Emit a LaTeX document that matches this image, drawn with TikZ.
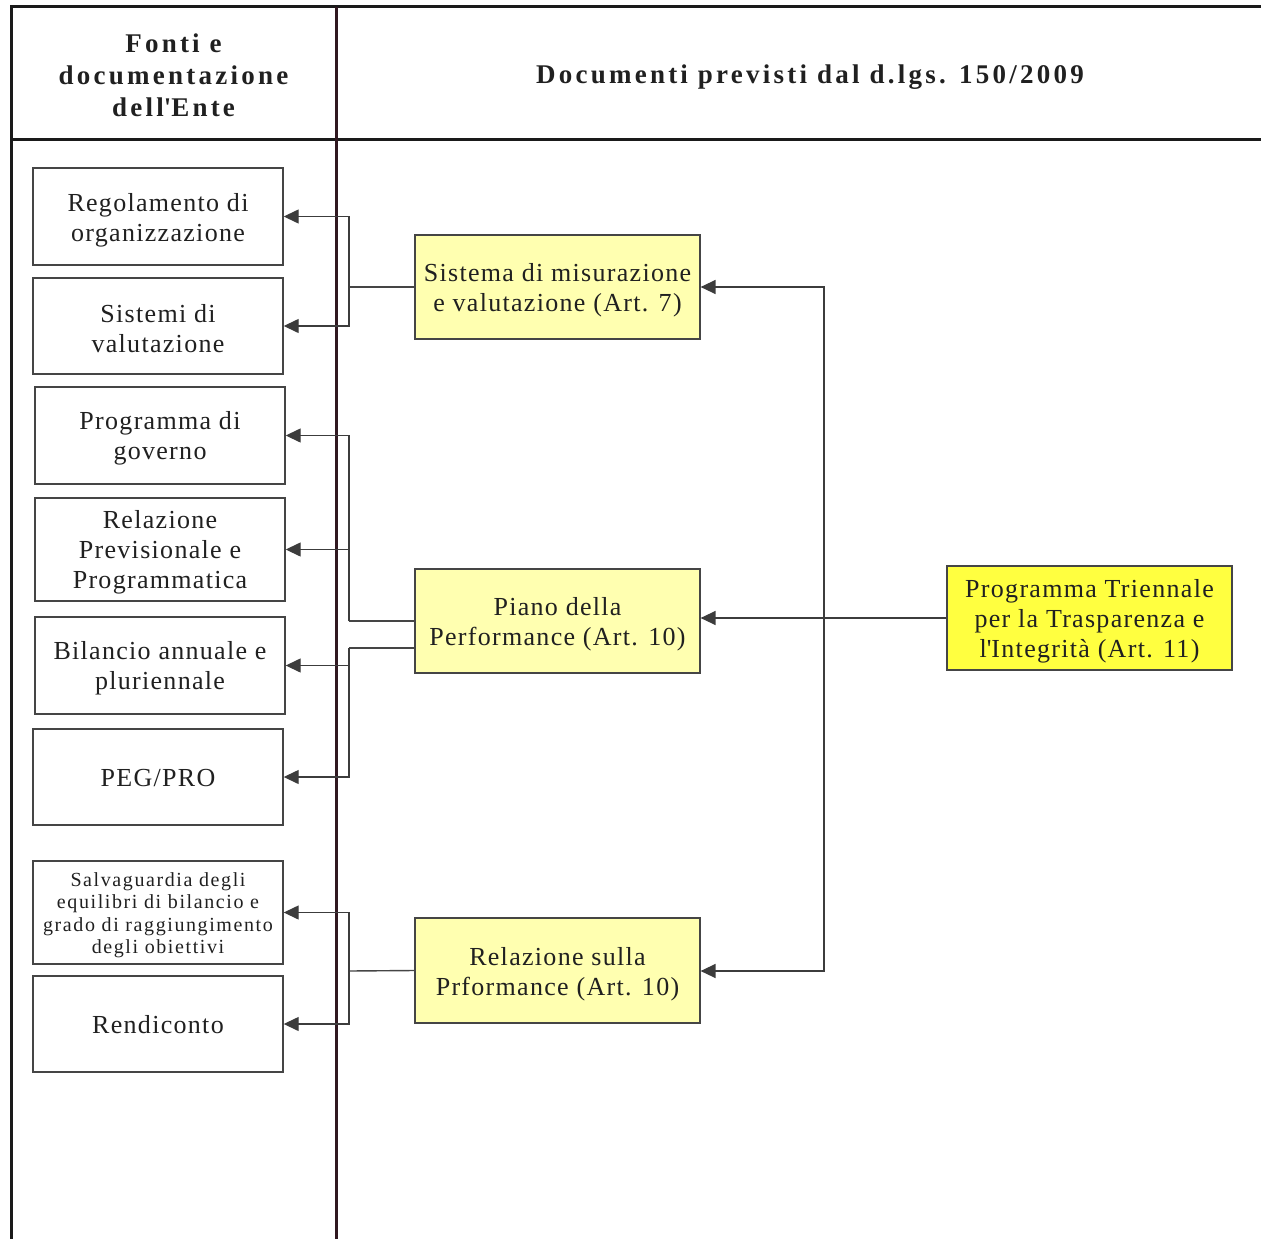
\documentclass[tikz,border=0pt]{standalone}
\usepackage{fontspec}
\setmainfont{Liberation Serif}[LetterSpace=5]
\newfontfamily\hdrfont{Liberation Serif}[LetterSpace=12]
\newfontfamily\smallfont{Liberation Serif}[LetterSpace=8]
\usetikzlibrary{arrows.meta}
\definecolor{txt}{HTML}{202020}
\definecolor{boxline}{HTML}{454545}
\definecolor{lightyel}{HTML}{FFFFB0}
\definecolor{stryel}{HTML}{FFFF40}
\definecolor{tabline}{HTML}{1A1A1A}
\definecolor{divline}{HTML}{301820}
\definecolor{arrcol}{HTML}{3C3C3C}
\tikzset{
  srcbox/.style={draw=boxline, line width=1.4pt, fill=white, minimum width=250pt, inner sep=0pt},
  docbox/.style={draw=boxline, line width=1.2pt, fill=lightyel, minimum width=285pt, inner sep=0pt},
  boxtxt/.style={inner sep=0pt, align=center, text=txt, font=\fontsize{26}{30}\selectfont},
  smalltxt/.style={boxtxt, font=\smallfont\fontsize{20}{22.5}\selectfont},
  conn/.style={draw=boxline, line width=1.4pt},
  tip/.style={-{Triangle[length=15pt,width=14pt]}, arrcol},
  hdr/.style={text=txt, align=center, font=\hdrfont\bfseries\fontsize{27}{32}\selectfont},
  tabrule/.style={draw=tabline, line width=3pt}
}
\begin{document}
\begin{tikzpicture}[x=1pt,y=-1pt]
\useasboundingbox (0,0) rectangle (1261,1239);
% table
\draw[tabrule] (11,1239) -- (11,7) -- (1261,7);
\draw[tabrule] (11,139) -- (1261,139);
\draw[draw=divline, line width=3pt] (336,7) -- (336,1239);
\node[hdr] (h1) at (173.5,75) {Fonti e\\documentazione\\dell\textquotesingle Ente};
\node[hdr] (h2) at (810,77) {Documenti previsti dal d.lgs. 150/2009};
% source boxes
\node[srcbox, minimum height=97pt] (r1) at (158,216.5) {};
\node[srcbox, minimum height=96pt] (r2) at (158,326) {};
\node[srcbox, minimum height=97pt] (r3) at (160,435.5) {};
\node[srcbox, minimum height=103pt] (r4) at (160,549.5) {};
\node[srcbox, minimum height=97pt] (r5) at (160,665.5) {};
\node[srcbox, minimum height=96pt] (r6) at (158,777) {};
\node[srcbox, minimum height=103pt] (r7) at (158,912.5) {};
\node[srcbox, minimum height=96pt] (r8) at (158,1024) {};
\node[boxtxt] (t1) at ([yshift=-3.5pt]r1.center) {Regolamento di\\organizzazione};
\node[boxtxt] (t2) at ([yshift=-3pt]r2.center) {Sistemi di\\valutazione};
\node[boxtxt] (t3) at ([yshift=-3pt]r3.center) {Programma di\\governo};
\node[boxtxt] (t4) at ([yshift=-2.5pt]r4.center) {Relazione\\Previsionale e\\Programmatica};
\node[boxtxt] (t5) at ([yshift=-3pt]r5.center) {Bilancio annuale e\\pluriennale};
\node[boxtxt] (t6) at ([yshift=-1pt]r6.center) {PEG/PRO};
\node[smalltxt] (t7) at ([yshift=-2.5pt]r7.center) {Salvaguardia degli\\equilibri di bilancio e\\grado di raggiungimento\\degli obiettivi};
\node[boxtxt] (t8) at ([yshift=-1pt]r8.center) {Rendiconto};
% document boxes
\node[docbox, minimum height=104pt] (A) at (557.5,287) {};
\node[docbox, minimum height=104pt] (B) at (557.5,621) {};
\node[docbox, minimum height=105pt] (C) at (557.5,970.5) {};
\node[docbox, fill=stryel, minimum height=104pt] (D) at (1089.5,618) {};
\node[boxtxt] (tA) at ([yshift=-3pt]A.center) {Sistema di misurazione\\e valutazione (Art. 7)};
\node[boxtxt] (tB) at ([yshift=-3pt]B.center) {Piano della\\Performance (Art. 10)};
\node[boxtxt] (tC) at ([yshift=-3.5pt]C.center) {Relazione sulla\\Prformance (Art. 10)};
\node[boxtxt] (tD) at ([yshift=-3pt]D.center) {Programma Triennale\\per la Trasparenza e\\l\textquotesingle Integrità (Art. 11)};
% bus coordinates
\coordinate (busA) at (349,287);
\coordinate (busB1) at (349,621);
\coordinate (Bw2) at (415,648);
\coordinate (busB2) at (349,648);
\coordinate (busC) at (349,971);
\coordinate (vt) at (824,287);
\coordinate (vb) at (824,971);
% connectors A
\draw[conn] (A.west) -- (busA);
\draw[conn, tip] (busA) |- (r1.east);
\draw[conn, tip] (busA) |- (r2.east);
% connectors B
\draw[conn] (B.west) -- (busB1);
\draw[conn] (Bw2) -- (busB2);
\draw[conn, tip] (busB1) |- (r3.east);
\draw[conn, tip] (busB1) |- (r4.east);
\draw[conn, tip] (busB2) |- (r5.east);
\draw[conn, tip] (busB2) |- (r6.east);
% connectors C
\draw[conn] (C.west) -- (busC);
\draw[conn, tip] (busC) |- (r7.east);
\draw[conn, tip] (busC) |- (r8.east);
% D to B, and vertical to A and C
\draw[conn, tip] (D.west) -- (D.west -| B.east);
\draw[conn, {Triangle[length=15pt,width=14pt]}-{Triangle[length=15pt,width=14pt]}, arrcol] (A.east) -- (vt) -- (vb) -- (C.east |- vb);
\end{tikzpicture}
\end{document}
